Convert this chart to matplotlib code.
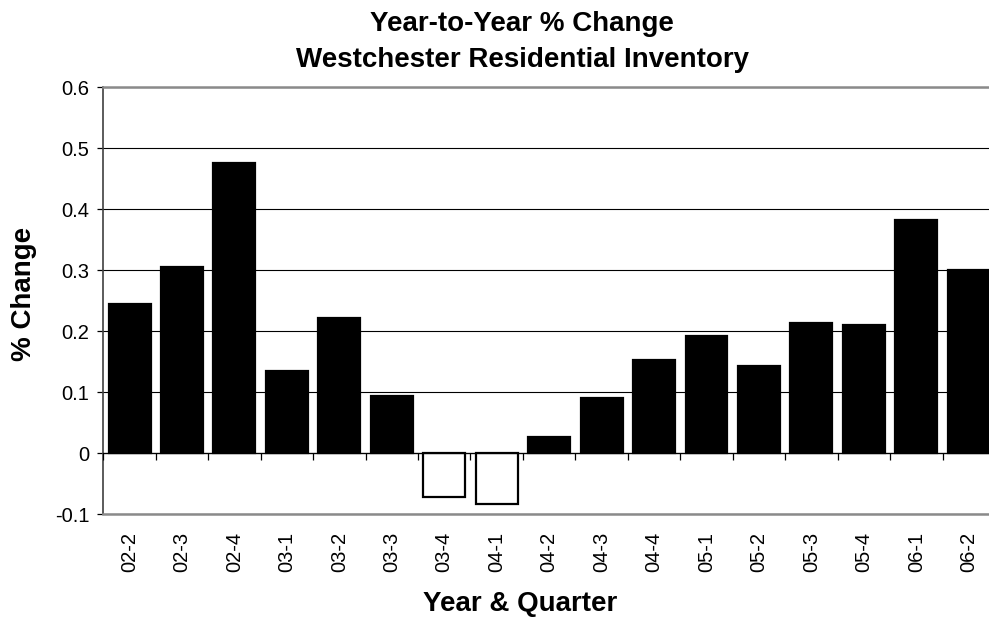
import numpy as np
import matplotlib
matplotlib.use("Agg")
import matplotlib.pyplot as plt

plt.rcParams["font.family"] = ["Liberation Sans", "DejaVu Sans"]

# ── Data ──────────────────────────────────────────────────────────────────────
QUARTERS = ["02-2", "02-3", "02-4", "03-1", "03-2", "03-3", "03-4", "04-1",
            "04-2", "04-3", "04-4", "05-1", "05-2", "05-3", "05-4", "06-1",
            "06-2"]
PCT_CHANGE = [0.244, 0.305, 0.475, 0.134, 0.221, 0.093, -0.072, -0.084,
              0.026, 0.091, 0.152, 0.192, 0.143, 0.214, 0.210, 0.382,
              0.300]
Y_TICKS = [-0.1, 0.0, 0.1, 0.2, 0.3, 0.4, 0.5, 0.6]
Y_TICK_LABELS = ["-0.1", "0", "0.1", "0.2", "0.3", "0.4", "0.5", "0.6"]

TITLE = "Year-to-Year % Change\nWestchester Residential Inventory"
X_LABEL = "Year & Quarter"
Y_LABEL = "% Change"

# ── Figure ────────────────────────────────────────────────────────────────────
W, H = 989, 619
fig = plt.figure(figsize=(W / 100, H / 100), dpi=100)
fig.patch.set_facecolor("white")

# plot area runs slightly past the right edge of the picture
left, right, top, bottom = 103.3, 995.0, 87.3, 514.0
ax = fig.add_axes([left / W, 1 - bottom / H, (right - left) / W, (bottom - top) / H])

x = np.arange(len(QUARTERS))
vals = np.array(PCT_CHANGE)
fills = ["black" if v >= 0 else "white" for v in vals]
ax.bar(x, vals, width=0.8, color=fills, edgecolor="black", linewidth=1.6, zorder=3)

ax.set_xlim(-0.5, len(QUARTERS) - 0.5)
ax.set_ylim(Y_TICKS[0], Y_TICKS[-1])

# horizontal gridlines
ax.set_axisbelow(True)
ax.set_yticks(Y_TICKS)
ax.set_yticklabels(Y_TICK_LABELS, fontsize=14.5)
ax.yaxis.grid(True, color="black", linewidth=0.8)
ax.tick_params(axis="y", direction="out", length=4, width=0.9, pad=6, colors="black")

# category axis sits on zero, labels stay at the bottom
ax.axhline(0, color="black", linewidth=0.9, zorder=4)
ax.vlines(np.arange(len(QUARTERS) + 1) - 0.5, -0.011, 0, color="black",
          linewidth=0.9, zorder=4)
ax.set_xticks(x)
ax.set_xticklabels(QUARTERS, rotation=90, fontsize=14.5)
ax.tick_params(axis="x", length=0, pad=13)

for side in ("top", "bottom"):
    ax.spines[side].set_color("#8a8a8a")
    ax.spines[side].set_linewidth(1.8)
    ax.spines[side].set_zorder(5)
ax.spines["left"].set_color("#404040")
ax.spines["left"].set_linewidth(1.2)
ax.spines["right"].set_visible(False)

fig.text(522 / W, 1 - 42 / H, TITLE, ha="center", va="center",
         fontsize=20, fontweight="bold", linespacing=1.5)
fig.text(520 / W, 1 - 604 / H, X_LABEL, ha="center", va="center",
         fontsize=20, fontweight="bold")
fig.text(24 / W, 1 - 294 / H, Y_LABEL, ha="center", va="center",
         rotation=90, fontsize=20, fontweight="bold")

fig.savefig("out.png", dpi=100, facecolor=fig.get_facecolor())
